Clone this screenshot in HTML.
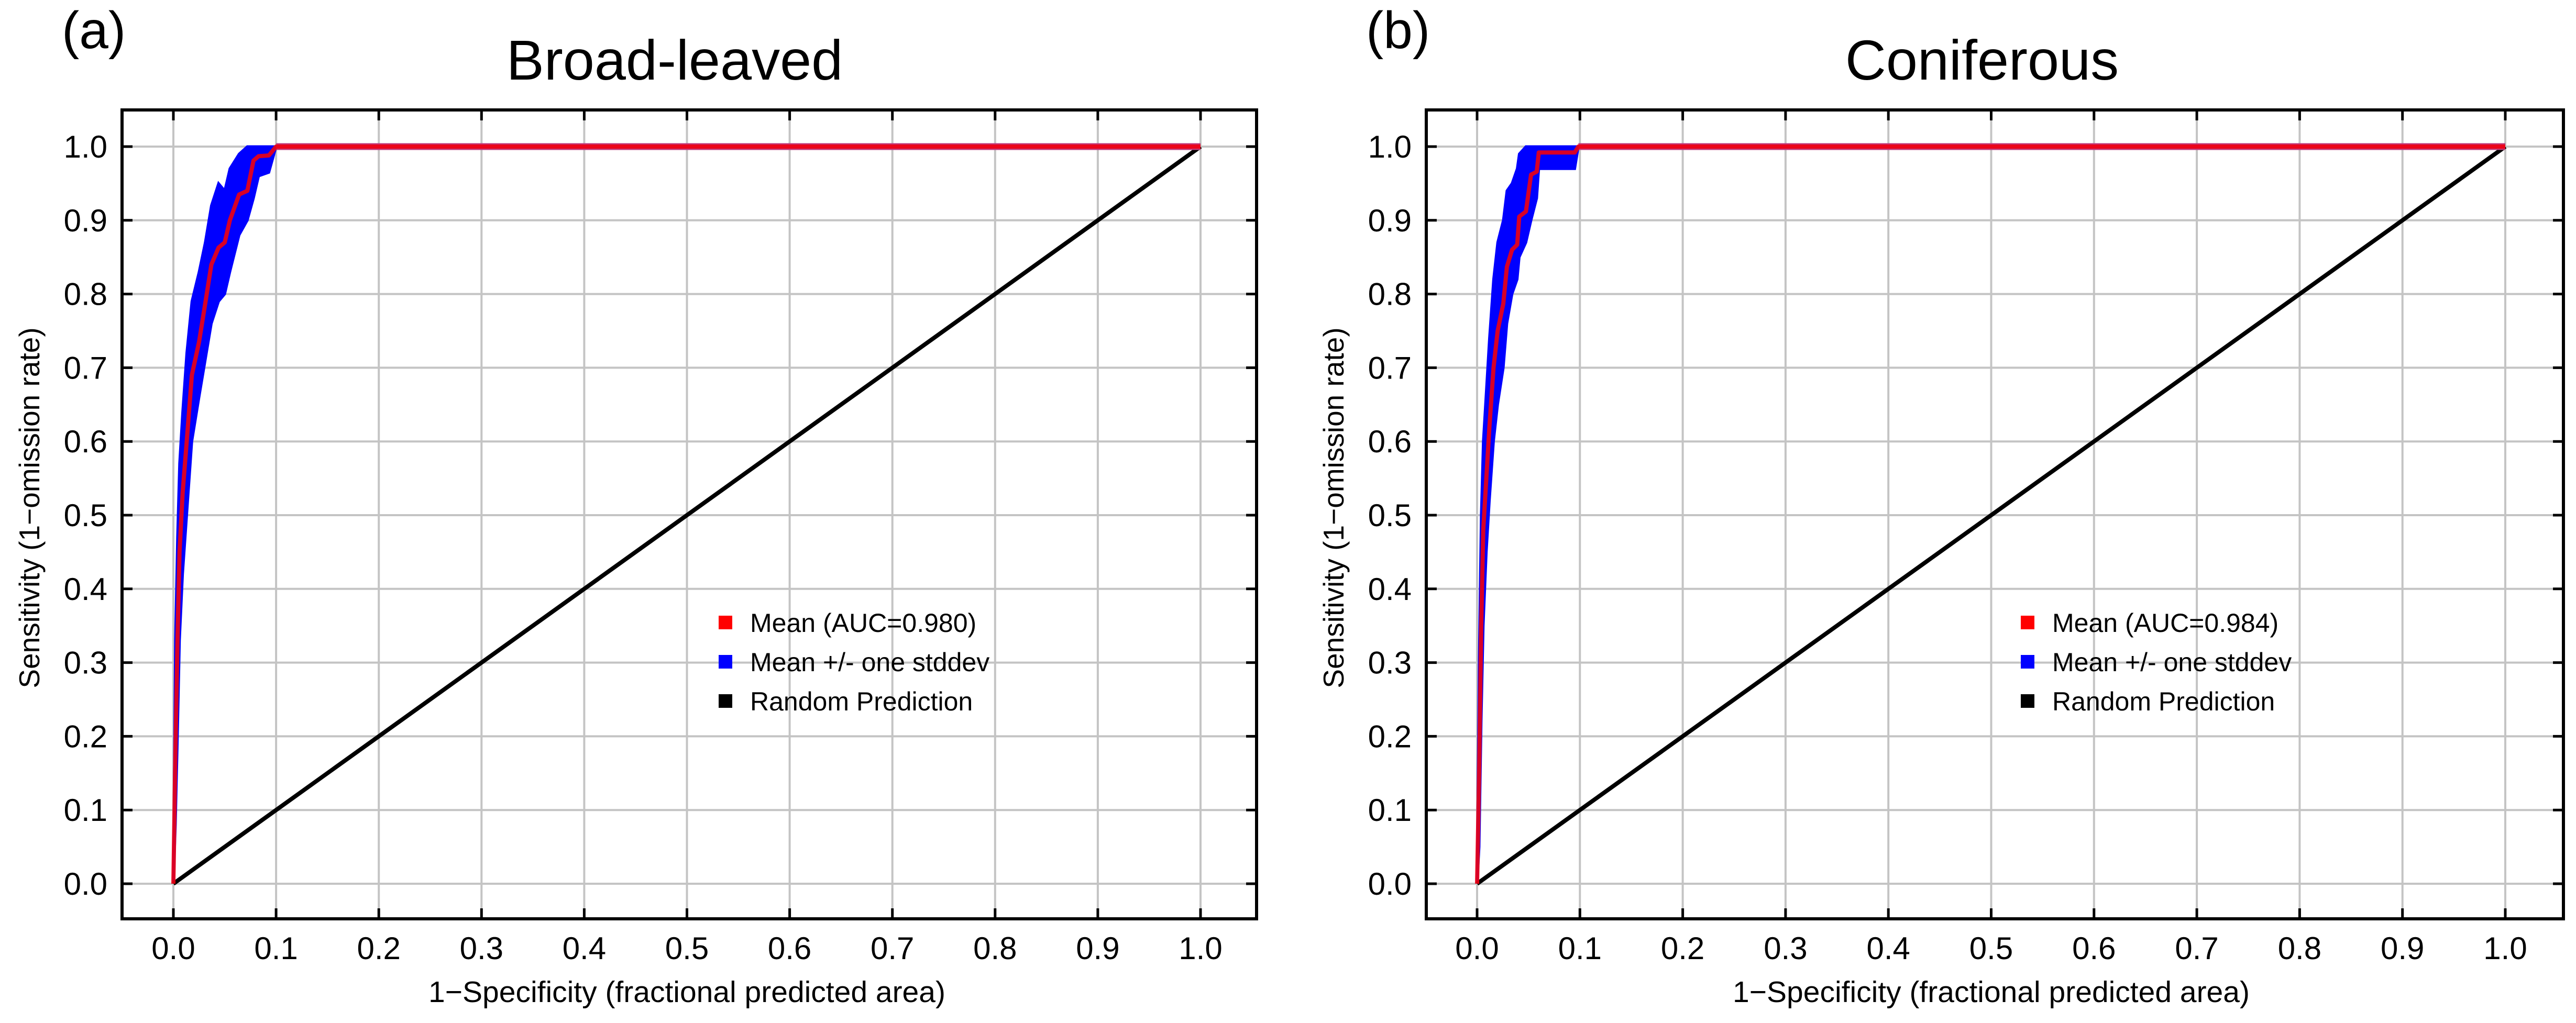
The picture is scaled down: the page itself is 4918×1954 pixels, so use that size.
<!DOCTYPE html>
<html><head><meta charset="utf-8"><style>
html,body{margin:0;padding:0;background:#fff;}
svg{display:block;font-family:"Liberation Sans",Arial,sans-serif;}
</style></head><body>
<svg id="fig" xmlns="http://www.w3.org/2000/svg" width="4918" height="1954" viewBox="0 0 4918 1954">
<rect x="0" y="0" width="4918" height="1954" fill="#fff"/>
</svg>
<script>
// ---- data ----
const xTicks = [0,0.1,0.2,0.3,0.4,0.5,0.6,0.7,0.8,0.9,1.0];
const yTicks = [0,0.1,0.2,0.3,0.4,0.5,0.6,0.7,0.8,0.9,1.0];
const panelTitles = ["Broad-leaved","Coniferous"];
const panelLabels = ["(a)","(b)"];
const legendLabels = [["Mean (AUC=0.980)","Mean +/- one stddev","Random Prediction"],["Mean (AUC=0.984)","Mean +/- one stddev","Random Prediction"]];
const broadX = [0,0.002,0.004,0.006,0.009,0.013,0.018,0.025,0.031,0.037,0.044,0.05,0.055,0.064,0.072,0.078,0.083,0.093,0.1,1.0];
const broadMean = [0,0.18,0.33,0.45,0.53,0.6,0.69,0.735,0.787,0.84,0.863,0.87,0.9,0.935,0.94,0.981,0.987,0.988,1,1];
const broadUpper = [0,0.33,0.47,0.57,0.64,0.72,0.79,0.83,0.87,0.92,0.95,0.94,0.97,0.99,1,1,1,1,1,1];
const broadLower = [0,0.08,0.2,0.33,0.42,0.5,0.6,0.66,0.71,0.76,0.79,0.8,0.83,0.88,0.9,0.93,0.96,0.965,1,1];
const conX = [0,0.002,0.004,0.006,0.009,0.012,0.016,0.02,0.0255,0.029,0.034,0.039,0.041,0.0475,0.0525,0.058,0.06,0.095,0.0985,1.0];
const conMean = [0,0.15,0.35,0.48,0.55,0.62,0.7,0.75,0.787,0.837,0.86,0.867,0.905,0.912,0.962,0.966,0.992,0.992,1,1];
const conUpper = [0,0.3,0.5,0.6,0.67,0.74,0.82,0.87,0.9,0.94,0.95,0.97,0.99,1,1,1,1,1,1,1];
const conLower = [0,0.05,0.22,0.35,0.45,0.52,0.6,0.65,0.7,0.76,0.8,0.82,0.85,0.87,0.9,0.93,0.97,0.97,1,1];
const randomX = [0,1];
const randomY = [0,1];

const NS = "http://www.w3.org/2000/svg";
const svg = document.getElementById("fig");
function mk(tag, attrs, parent){
  const e = document.createElementNS(NS, tag);
  for (const k in attrs) e.setAttribute(k, attrs[k]);
  (parent||svg).appendChild(e);
  return e;
}

const panels = [
  {box:[233,210,2399,1755], x0:331, x1:2292, y0:1688, y1:280, xs:broadX, mean:broadMean, up:broadUpper, lo:broadLower,
   titleX:1288, labelX:118, yTitleX:55, legX:1372},
  {box:[2723,210,4894,1755], x0:2820, x1:4783, y0:1688, y1:280, xs:conX, mean:conMean, up:conUpper, lo:conLower,
   titleX:3784, labelX:2608, yTitleX:2545, legX:3858}
];

panels.forEach((p, pi) => {
  const g = mk("g", {});
  
  
  const sx = v => p.x0 + v*(p.x1-p.x0);
  const sy = v => p.y0 + v*(p.y1-p.y0);
  const [L,T,R,B] = p.box;

  xTicks.forEach(t => {
    const l = mk("line",{x1:sx(t),x2:sx(t),y1:T,y2:B,stroke:"#c4c4c4","stroke-width":4},g);
    
    
  });
  yTicks.forEach(t => {
    const l = mk("line",{x1:L,x2:R,y1:sy(t),y2:sy(t),stroke:"#c4c4c4","stroke-width":4},g);
    
    
  });

  let pts = [];
  for (let i=0;i<p.xs.length;i++) pts.push(sx(p.xs[i])+","+sy(p.up[i]));
  for (let i=p.xs.length-1;i>=0;i--) pts.push(sx(p.xs[i])+","+sy(p.lo[i]));
  const band = mk("polygon",{points:pts.join(" "),fill:"#0000ff",stroke:"#0000ff","stroke-width":5,"stroke-linejoin":"miter"},g);
  
  

  const rnd = mk("line",{x1:sx(randomX[0]),y1:sy(randomY[0]),x2:sx(randomX[1]),y2:sy(randomY[1]),stroke:"#000","stroke-width":8},g);
  
  

  const n = p.xs.length;
  const under = mk("line",{x1:sx(p.xs[n-2]),y1:sy(p.mean[n-2]),x2:sx(p.xs[n-1]),y2:sy(p.mean[n-1]),stroke:"#c03a7a","stroke-width":13},g);
  
  

  const mp = p.xs.map((x,i)=>sx(x)+","+sy(p.mean[i])).join(" ");
  const ml = mk("polyline",{points:mp,fill:"none",stroke:"#f00010","stroke-width":8,"stroke-linejoin":"round","stroke-opacity":0.9},g);
  
  

  const fr = mk("rect",{x:L,y:T,width:R-L,height:B-T,fill:"none",stroke:"#000","stroke-width":6},g);
  
  

  xTicks.forEach(t => {
    mk("line",{x1:sx(t),x2:sx(t),y1:B,y2:B-20,stroke:"#000","stroke-width":5},g);
    mk("line",{x1:sx(t),x2:sx(t),y1:T,y2:T+20,stroke:"#000","stroke-width":5},g);
    const tx = mk("text",{x:sx(t),y:1832,"font-size":60,"text-anchor":"middle",fill:"#000"},g);
    tx.textContent = t.toFixed(1);
    
    
  });
  yTicks.forEach(t => {
    mk("line",{x1:L,x2:L+20,y1:sy(t),y2:sy(t),stroke:"#000","stroke-width":5},g);
    mk("line",{x1:R,x2:R-20,y1:sy(t),y2:sy(t),stroke:"#000","stroke-width":5},g);
    const tx = mk("text",{x:L-28,y:sy(t)+21,"font-size":60,"text-anchor":"end",fill:"#000"},g);
    tx.textContent = t.toFixed(1);
    
    
  });

  const xt = mk("text",{x:(p.x0+p.x1)/2,y:1914,"font-size":57,"text-anchor":"middle",fill:"#000"},g);
  xt.textContent = "1\u2212Specificity (fractional predicted area)";
  
  
  const yt = mk("text",{x:0,y:0,"font-size":55,"text-anchor":"middle",fill:"#000",transform:`translate(${p.yTitleX+20},970) rotate(-90)`},g);
  yt.textContent = "Sensitivity (1\u2212omission rate)";
  
  

  const tt = mk("text",{x:p.titleX,y:152,"font-size":108,"text-anchor":"middle",fill:"#000"},g);
  tt.textContent = panelTitles[pi];
  
  
  const pl = mk("text",{x:p.labelX,y:92,"font-size":100,fill:"#000"},g);
  pl.textContent = panelLabels[pi];
  
  

  const colors = ["#ff0000","#0000ff","#000000"];
  const rows = [1189,1264,1339];
  legendLabels[pi].forEach((lab,i) => {
    const sq = mk("rect",{x:p.legX,y:rows[i]-13,width:26,height:26,fill:colors[i]},g);
    
    
    const lt = mk("text",{x:p.legX+60,y:rows[i]+18,"font-size":50,fill:"#000"},g);
    lt.textContent = lab;
    
    
  });
});
</script>
</body></html>
